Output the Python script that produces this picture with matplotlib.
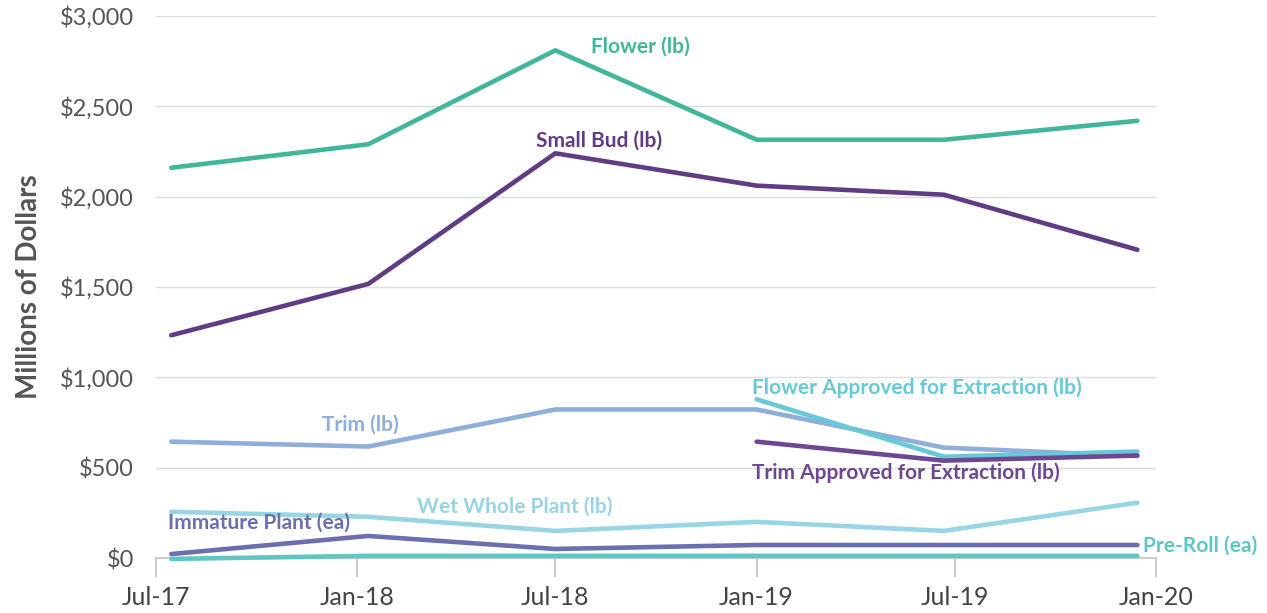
import matplotlib
matplotlib.use("Agg")
import matplotlib.pyplot as plt
import datetime as dt

plt.rcParams['font.family'] = ['Lato', 'DejaVu Sans']

dates = [dt.date(2017, 7, 15), dt.date(2018, 1, 11), dt.date(2018, 7, 1),
         dt.date(2019, 1, 1), dt.date(2019, 6, 21), dt.date(2019, 12, 15)]

flower = [2160, 2290, 2810, 2315, 2315, 2420]
small_bud = [1233, 1517, 2240, 2061, 2011, 1706]
trim = [644, 617, 822, 822, 611, 565]
flower_extr = [None, None, None, 878, 561, 589]
trim_extr = [None, None, None, 644, 539, 567]
wet_whole = [256, 228, 150, 200, 150, 306]
immature = [22, 122, 50, 72, 72, 72]
pre_roll = [-5, 12, 12, 12, 12, 12]

tick_dates = [dt.date(2017, 7, 1), dt.date(2018, 1, 1), dt.date(2018, 7, 1),
              dt.date(2019, 1, 1), dt.date(2019, 7, 1), dt.date(2020, 1, 1)]
tick_labels = ['Jul-17', 'Jan-18', 'Jul-18', 'Jan-19', 'Jul-19', 'Jan-20']
y_ticks = [0, 500, 1000, 1500, 2000, 2500, 3000]

series = [
    ("Flower (lb)", flower, '#41b69a'),
    ("Small Bud (lb)", small_bud, '#603c84'),
    ("Trim (lb)", trim, '#8eaedb'),
    ("Flower Approved for Extraction (lb)", flower_extr, '#67c9d8'),
    ("Trim Approved for Extraction (lb)", trim_extr, '#6e4792'),
    ("Wet Whole Plant (lb)", wet_whole, '#97d5e5'),
    ("Immature Plant (ea)", immature, '#6b6fb0'),
    ("Pre-Roll (ea)", pre_roll, '#5fc6c4'),
]

W, H = 1267, 613
fig = plt.figure(figsize=(W / 100, H / 100), dpi=100)
x0, x1, y0, y1 = 156, 1156, 558, 16
ax = fig.add_axes([x0 / W, 1 - y0 / H, (x1 - x0) / W, (y0 - y1) / H])

for name, vals, col in series:
    xs = [d for d, v in zip(dates, vals) if v is not None]
    ys = [v for v in vals if v is not None]
    ax.plot(xs, ys, color=col, lw=3.3, clip_on=False, solid_capstyle='round', zorder=3)

ax.set_xlim(tick_dates[0], tick_dates[-1])
ax.set_ylim(0, 3000)
ax.set_xticks(tick_dates)
ax.set_xticklabels(tick_labels)
ax.set_yticks(y_ticks)
ax.set_yticklabels(['${:,}'.format(v) for v in y_ticks])
ax.grid(axis='y', color='#dddddd', lw=1)
ax.set_axisbelow(True)
for s in ['top', 'right', 'left']:
    ax.spines[s].set_visible(False)
ax.spines['bottom'].set_color('#cccccc')
ax.spines['bottom'].set_linewidth(1.5)
ax.tick_params(axis='x', length=14, width=1.5, color='#cccccc', labelsize=18,
               labelcolor='#444444', pad=6)
ax.tick_params(axis='y', length=0, labelsize=17, labelcolor='#555555', pad=16)
ax.set_ylabel('Millions of Dollars', fontsize=20, fontweight='bold', color='#555555', labelpad=13)

def px(xp, yp):
    return (xp - x0) / (x1 - x0), (y0 - yp) / (y0 - y1)

labels = [
    ("Flower (lb)", 640, 47, 'center', '#41b69a'),
    ("Small Bud (lb)", 599, 141, 'center', '#603c84'),
    ("Flower Approved for Extraction (lb)", 752, 388, 'left', '#67c9d8'),
    ("Trim (lb)", 360, 425, 'center', '#8eaedb'),
    ("Trim Approved for Extraction (lb)", 752, 473, 'left', '#6e4792'),
    ("Wet Whole Plant (lb)", 515, 507, 'center', '#97d5e5'),
    ("Immature Plant (ea)", 168, 523, 'left', '#6b6fb0'),
    ("Pre-Roll (ea)", 1143, 546, 'left', '#5fc6c4'),
]
for t, xp, yp, ha, col in labels:
    fx, fy = px(xp, yp)
    ax.text(fx, fy, t, transform=ax.transAxes, ha=ha, va='center', fontsize=15,
            fontweight='bold', color=col, clip_on=False, zorder=4)

fig.savefig('out.png', dpi=100)
